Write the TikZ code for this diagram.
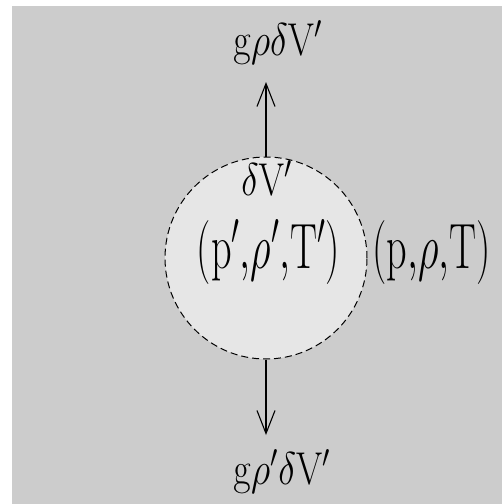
\documentclass[tikz,border=0pt]{standalone}
\usepackage{fix-cm}
\usepackage{tikz}
\usetikzlibrary{arrows.meta}
\definecolor{fluidgray}{RGB}{204,204,204}
\definecolor{parcelgray}{RGB}{230,230,230}
\newcommand{\smalltxt}{\fontsize{23}{25}\selectfont}
\newcommand{\largetxt}{\fontsize{32}{34}\selectfont}

\begin{document}
\begin{tikzpicture}[
    x=0.5pt, y=-0.5pt,
    force/.style={-{Straight Barb[length=11.5pt,width=9pt]},line width=0.55pt},
    parcel/.style={circle,draw=black,fill=parcelgray,dash pattern=on 3.5pt off 2pt,
      line width=0.5pt,inner sep=0pt,minimum size=101pt},
    forcelabel/.style={inner sep=0pt,anchor=base west,font=\smalltxt,xscale=0.82},
    statelabel/.style={inner sep=0pt,anchor=base,font=\largetxt,xscale=0.63}
  ]
    \useasboundingbox (0,0) rectangle (502,504);
    \fill[fluidgray] (12,6) rectangle (502,504);

    \node[parcel] (cell) at (266,258) {};
    \node[inner sep=0pt,anchor=base,font=\smalltxt,xscale=0.8] (vol) at (267,195) {$\delta\mathrm{V}'$};
    \node[statelabel] (inside) at (268.5,268) {$(\mathrm{p}'{,}\rho'{,}\mathrm{T}')$};
    \node[statelabel,anchor=base west] (outside) at (372,268) {$(\mathrm{p}{,}\rho{,}\mathrm{T})$};

    \node[forcelabel] (buoy) at (233,55) {$\mathrm{g}\rho\delta\mathrm{V}'$};
    \node[forcelabel] (weight) at (233,484) {$\mathrm{g}\rho'\delta\mathrm{V}'$};

    \coordinate (uptip) at (266,82);
    \coordinate (downtip) at (266,435);

    \draw[force] (cell.north) -- (uptip);
    \draw[force] (cell.south) -- (downtip);
  \end{tikzpicture}
\end{document}
